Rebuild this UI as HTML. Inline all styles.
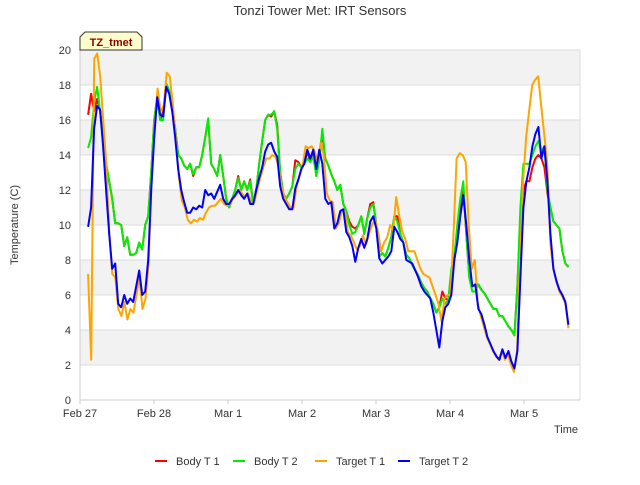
<!DOCTYPE html>
<html><head><meta charset="utf-8"><style>
body{margin:0;background:#fff;}
svg text{font-family:"Liberation Sans","DejaVu Sans",sans-serif;}
</style></head><body>
<svg id="chart" width="640" height="480" xmlns="http://www.w3.org/2000/svg">
<text x="320" y="15" text-anchor="middle" font-size="13" fill="#333">Tonzi Tower Met: IRT Sensors</text>
<g id="bands"></g><g id="grid"></g><g id="axes"></g><g id="series"></g>
<text x="18" y="225" text-anchor="middle" font-size="11" fill="#333" transform="rotate(-90 18 225)">Temperature (C)</text>
<text x="578" y="433" text-anchor="end" font-size="11" fill="#333">Time</text>
<g>
<path d="M80,50 L80,37 L85,32 L137,32 L142,37 L142,50 Z" fill="#ffffcc" stroke="#333" stroke-width="1"/>
<text x="111" y="46" text-anchor="middle" font-size="11" font-weight="bold" fill="#8b0000">TZ_tmet</text>
</g>
<g id="legend"></g>
</svg>
<script>
const xTickLabels=["Feb 27","Feb 28","Mar 1","Mar 2","Mar 3","Mar 4","Mar 5"];
const yTicks=[0,2,4,6,8,10,12,14,16,18,20];
const tStart=0.11, tEnd=6.6;
const seriesNames=["Body T 1","Body T 2","Target T 1","Target T 2"];
const seriesColors=["#ff0000","#00ee00","#ffa500","#0000ff"];
const bodyT2=[14.4,15,17,17.9,16.5,15,13.5,12.5,11.5,10.1,10.1,10,8.8,9.3,8.3,8.3,8.4,9,8.6,10,10.5,13,16,17.3,16,16,18.1,17.7,16.8,15.5,14,13.8,13.4,13.2,13.5,12.9,13.3,13.3,14,15,16.1,13.5,13.2,12.8,14,12.8,11.5,11,11.5,12,12.7,12,12.5,12,12.5,11.2,12,13.5,14.8,16,16.3,16.3,16.5,15.5,13,11.8,11.5,11.8,12.2,13.2,13.5,13.3,13.5,13.8,13.6,13.9,12.8,13.7,15.5,13.8,13.4,12.9,12.5,12,12.3,11.2,10.8,10,9.5,9.6,10,10.5,9.5,10.4,11,11.2,10,8.2,8.4,8.2,8.7,9.3,10.5,10.2,9.5,9.0,8.3,8.1,7.7,7.4,7.1,6.7,6.4,6.2,5.8,5.5,5.0,5.3,5.8,5.5,5.7,7.5,8.2,10,11.5,12.5,9.5,7,6.2,6.2,6.6,6.3,6.1,5.8,5.5,5.2,5.2,4.8,4.8,4.5,4.2,4.0,3.7,6.5,11,13.5,13.5,13.5,14,14.5,14.8,14.2,14.5,12,11,10.2,10,9.8,8.5,7.8,7.6];
const bodyT1=[16.3,17.5,16.5,17.2,16.5,15,13.5,12.5,11.5,10.1,10.1,10,8.8,9.3,8.3,8.3,8.4,9,8.6,10,10.5,13,16,17.3,16,16.5,17.8,17.7,16.8,15.5,14,13.8,13.4,13.2,13.5,12.8,13.3,13.3,14,15,16,13.5,13.2,12.8,14,12.8,11.5,11,11.5,12,12.8,12,12.5,12,12.6,11.2,12,13.5,14.8,16,16.3,16.2,16.5,15.7,13,11.8,11.5,11.8,12.2,13.7,13.6,13.3,13.5,14.2,13.6,14.2,12.8,14,15.2,13.8,13.4,12.9,12.5,12,12.3,11.2,10.8,10.2,9.9,9.8,10,10.5,9.5,10.4,11.2,11.3,10,8.2,8.4,8.2,8.7,9.3,10.5,10.5,9.5,9.0,8.3,8.1,7.7,7.4,7.1,6.7,6.4,6.2,5.8,5.5,5.0,5.3,6.2,5.8,5.7,7.2,8.0,9.5,11.0,12.0,9.5,7,6.5,6.6,6.6,6.3,6.1,5.8,5.5,5.2,5.2,4.8,4.8,4.5,4.2,4.0,3.7,6.5,10.5,12.0,12.5,12.5,13.3,13.8,14.0,13.8,13.3,11.8,11,10.2,10,9.8,8.5,7.8,7.6];
const targetT2=[9.9,11,15.5,16.8,16.6,14.5,12,9.5,7.5,7.8,5.5,5.3,6,5.5,5.8,5.6,6.5,7.4,6,6.2,8,12,15,17.3,16.3,16.2,17.9,17.5,16.5,15,13.2,12,11.3,10.7,10.7,11,10.9,11.1,11,12,11.7,11.8,11.5,11.9,12.3,11.5,11.2,11.2,11.5,11.7,12,11.7,11.5,11.8,11.2,11.2,12,12.7,13.3,14.2,14.6,14.7,14.2,13.9,12.2,11.5,11.2,10.9,10.9,12.1,12.6,13.2,13.5,14.3,13.8,14.3,13.2,14.3,13.5,11.5,11.2,11.3,9.8,10.1,10.8,10.9,9.6,9.3,8.8,7.9,8.7,9.2,8.7,9.2,10.2,10.5,9.8,8.1,7.8,8,8.2,8.5,9.9,9.6,9.2,9.0,8.0,7.9,7.8,7.4,7.0,6.5,6.2,6.0,5.8,5.0,4.0,3.0,4.5,5.3,5.5,6.0,8.0,9.0,10.5,11.7,10.0,8.0,6.5,6.6,5.2,4.9,4.3,3.6,3.2,2.8,2.5,2.3,2.9,2.4,2.8,2.2,1.8,2.8,7.0,11.0,12.5,13.3,14.5,15.2,15.6,13.8,14.5,12.5,9.5,7.5,6.8,6.3,6.0,5.6,4.3];
const targetT1=[7.2,2.3,19.5,19.8,18.5,16,13.5,9.5,7.2,7.0,5.2,4.8,5.6,4.6,5.2,5.0,6.0,7.0,5.2,5.8,7.8,12.5,15.5,17.8,16.5,16.8,18.7,18.5,17,15,12.8,11.4,11,10.3,10.1,10.3,10.2,10.4,10.3,10.7,11,11.1,11.1,11.3,11.5,11.2,11.1,11.2,11.5,11.7,12,11.8,11.6,11.8,11.3,11.3,12,12.7,13.3,13.8,13.8,14,13.9,13.4,12.2,11.6,11.3,11.0,11.0,12.2,12.8,13.4,14.5,14.4,14.5,14.2,13.6,14.7,14,11.8,11.4,11.3,9.8,10.1,10.8,10.8,9.6,9.4,9.0,8.6,8.8,9.4,8.9,9.5,10.0,10.3,9.6,8.5,9.0,9.3,10,9.7,11.6,10.5,9.6,9.2,8.5,8.5,8.5,8.0,7.5,7.2,7.1,7.0,6.5,6.0,5.5,4.5,5.8,6.0,6.0,9.6,13.8,14.1,14.0,13.6,10.0,7.5,8,5.5,4.8,4.2,3.6,3.2,2.8,2.5,2.3,2.8,2.3,2.6,2.0,1.6,2.8,8,12.5,15,16.5,18.0,18.3,18.5,16.8,15.2,13.5,9,7.5,6.8,6.2,5.9,5.5,4.1];
const seriesData=[bodyT1,bodyT2,targetT1,targetT2];

const NS="http://www.w3.org/2000/svg";
const L=80,R=580,T=50,B=400,dayPx=74;
const xs=d=>L+d*dayPx;
const ys=v=>B-(v-0)/(20-0)*(B-T);
function mk(tag,attrs,parent){const e=document.createElementNS(NS,tag);for(const k in attrs)e.setAttribute(k,attrs[k]);parent.appendChild(e);return e;}
const bands=document.getElementById('bands'),grid=document.getElementById('grid'),axes=document.getElementById('axes'),ser=document.getElementById('series'),leg=document.getElementById('legend');
mk('rect',{x:L,y:T,width:R-L,height:B-T,fill:'#ffffff'},bands);
for(let i=0;i<yTicks.length-1;i++){
  if(i%2===1){const r=mk('rect',{x:L,y:ys(yTicks[i+1]),width:R-L,height:ys(yTicks[i])-ys(yTicks[i+1]),fill:'#f2f2f2'},bands);
  
  }
}
yTicks.forEach(v=>{
  const l=mk('line',{x1:L,x2:R,y1:ys(v),y2:ys(v),stroke:'#dcdcdc','stroke-width':1},grid);
  
  
  const t=mk('text',{x:L-9,y:ys(v)+4,'text-anchor':'end','font-size':11,fill:'#333'},axes);
  t.textContent=v;
  
  
});
mk('line',{x1:L,x2:L,y1:T,y2:B,stroke:'#cccccc'},axes);
mk('line',{x1:R,x2:R,y1:T,y2:B,stroke:'#dcdcdc'},axes);
mk('line',{x1:L,x2:R,y1:B,y2:B,stroke:'#cccccc'},axes);
xTickLabels.forEach((s,i)=>{
  mk('line',{x1:xs(i),x2:xs(i),y1:B,y2:B+4,stroke:'#cccccc'},axes);
  const t=mk('text',{x:xs(i),y:B+17,'text-anchor':'middle','font-size':11,fill:'#333'},axes);
  t.textContent=s;
  
  
});
seriesData.forEach((arr,si)=>{
  const n=arr.length;
  const pts=arr.map((v,i)=>xs(tStart+i*(tEnd-tStart)/(n-1)).toFixed(1)+','+ys(v).toFixed(1)).join(' ');
  const p=mk('polyline',{points:pts,fill:'none',stroke:seriesColors[si],'stroke-width':2,'stroke-linejoin':'round'},ser);
  
  
});
const legX=[160,238,320,403];
seriesNames.forEach((s,i)=>{
  const g=mk('g',{},leg);
  
  
  mk('line',{x1:legX[i]-5,x2:legX[i]+7,y1:461,y2:461,stroke:seriesColors[i],'stroke-width':2},g);
  const t=mk('text',{x:legX[i]+16,y:465,'font-size':11,fill:'#333'},g);
  t.textContent=s;
});
</script>
</body></html>
